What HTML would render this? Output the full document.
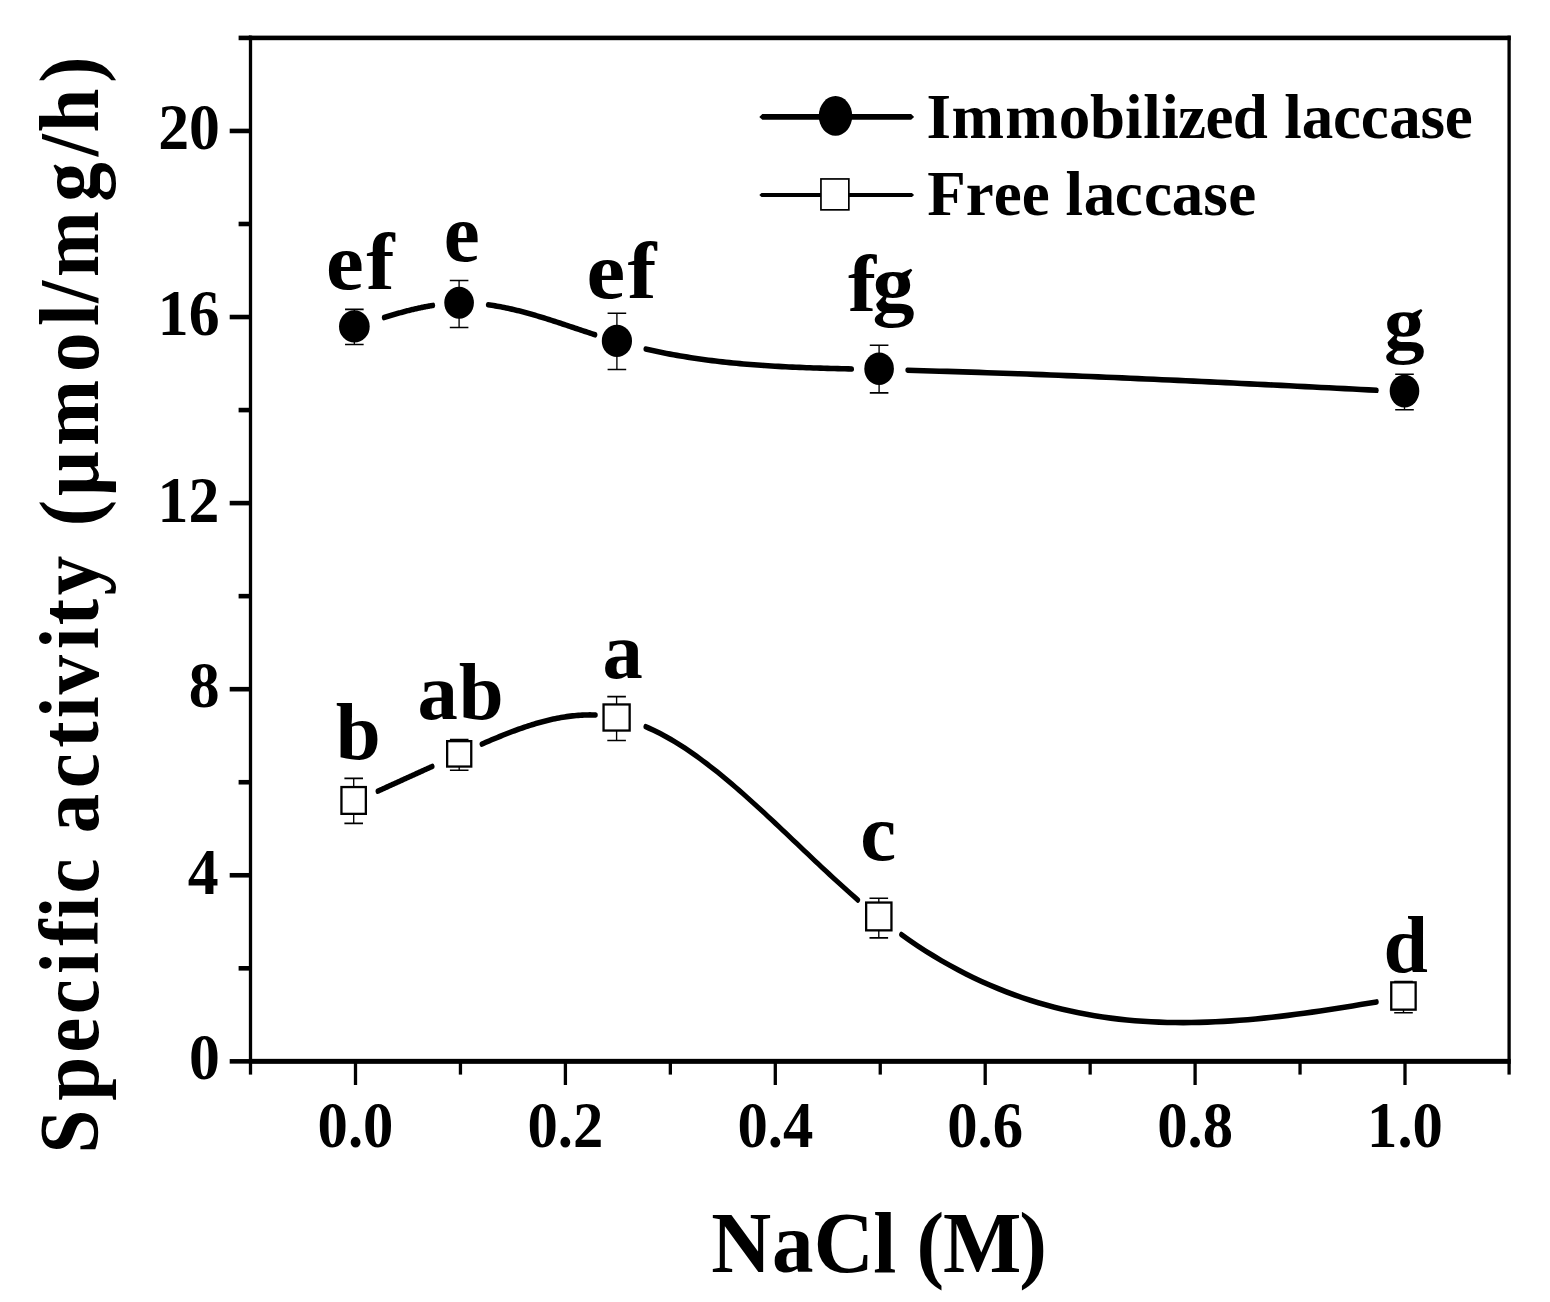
<!DOCTYPE html>
<html><head><meta charset="utf-8"><title>NaCl specific activity chart</title>
<style>html,body{margin:0;padding:0;background:#fff;}body{width:1550px;height:1302px;overflow:hidden;}svg{display:block;}</style>
</head><body>
<svg width="1550" height="1302" viewBox="0 0 1550 1302"><g fill="#000"><rect x="248.85" y="35.60" width="3.30" height="1039.00"/><rect x="1507.45" y="35.60" width="3.30" height="1039.00"/><rect x="248.85" y="35.60" width="1261.90" height="4.60"/><rect x="248.85" y="1058.85" width="1261.90" height="5"/><rect x="229.70" y="1059.05" width="20.80" height="4.60"/><rect x="238.60" y="966.01" width="11.90" height="4.60"/><rect x="229.70" y="872.97" width="20.80" height="4.60"/><rect x="238.60" y="779.93" width="11.90" height="4.60"/><rect x="229.70" y="686.89" width="20.80" height="4.60"/><rect x="238.60" y="593.85" width="11.90" height="4.60"/><rect x="229.70" y="500.81" width="20.80" height="4.60"/><rect x="238.60" y="407.77" width="11.90" height="4.60"/><rect x="229.70" y="314.73" width="20.80" height="4.60"/><rect x="238.60" y="221.69" width="11.90" height="4.60"/><rect x="229.70" y="128.65" width="20.80" height="4.60"/><rect x="238.60" y="35.61" width="11.90" height="4.60"/><rect x="353.85" y="1061.35" width="3.30" height="23.65"/><rect x="458.80" y="1061.35" width="3.30" height="13.25"/><rect x="563.75" y="1061.35" width="3.30" height="23.65"/><rect x="668.70" y="1061.35" width="3.30" height="13.25"/><rect x="773.65" y="1061.35" width="3.30" height="23.65"/><rect x="878.60" y="1061.35" width="3.30" height="13.25"/><rect x="983.55" y="1061.35" width="3.30" height="23.65"/><rect x="1088.50" y="1061.35" width="3.30" height="13.25"/><rect x="1193.45" y="1061.35" width="3.30" height="23.65"/><rect x="1298.40" y="1061.35" width="3.30" height="13.25"/><rect x="1403.35" y="1061.35" width="3.30" height="23.65"/></g>
<g transform="scale(1 1.3)" fill="none" stroke="#000" stroke-width="4.3" stroke-linejoin="round" stroke-linecap="round"><path d="M384.00,244.28 L384.83,244.08 L385.66,243.88 L386.49,243.68 L387.32,243.48 L388.15,243.29 L388.98,243.09 L389.81,242.90 L390.64,242.70 L391.47,242.51 L392.31,242.32 L393.14,242.13 L393.97,241.94 L394.80,241.76 L395.63,241.57 L396.46,241.39 L397.29,241.20 L398.12,241.02 L398.95,240.84 L399.78,240.66 L400.61,240.48 L401.44,240.31 L402.27,240.13 L403.10,239.96 L403.93,239.79 L404.76,239.62 L405.59,239.45 L406.42,239.28 L407.25,239.12 L408.08,238.95 L408.92,238.79 L409.75,238.63 L410.58,238.47 L411.41,238.32 L412.24,238.16 L413.07,238.01 L413.90,237.85 L414.73,237.71 L415.56,237.56 L416.39,237.41 L417.22,237.27 L418.05,237.13 L418.88,236.98 L419.71,236.85 L420.54,236.71 L421.37,236.58 L422.20,236.44 L423.03,236.31 L423.86,236.19 L424.69,236.06 L425.53,235.94 L426.36,235.82 L427.19,235.70 L428.02,235.58 L428.85,235.47 L429.68,235.35 L430.51,235.24 L431.34,235.14 L432.17,235.03 L433.00,234.93 M488.00,234.44 L489.82,234.64 L491.63,234.84 L493.45,235.06 L495.27,235.29 L497.08,235.53 L498.90,235.77 L500.72,236.03 L502.54,236.30 L504.35,236.58 L506.17,236.87 L507.99,237.17 L509.80,237.47 L511.62,237.79 L513.44,238.11 L515.25,238.44 L517.07,238.78 L518.89,239.13 L520.71,239.49 L522.52,239.85 L524.34,240.22 L526.16,240.59 L527.97,240.98 L529.79,241.37 L531.61,241.76 L533.42,242.16 L535.24,242.57 L537.06,242.98 L538.87,243.40 L540.69,243.82 L542.51,244.25 L544.33,244.68 L546.14,245.11 L547.96,245.55 L549.78,245.99 L551.59,246.44 L553.41,246.89 L555.23,247.34 L557.04,247.80 L558.86,248.25 L560.68,248.71 L562.49,249.17 L564.31,249.64 L566.13,250.10 L567.95,250.57 L569.76,251.03 L571.58,251.50 L573.40,251.97 L575.21,252.44 L577.03,252.91 L578.85,253.37 L580.66,253.84 L582.48,254.31 L584.30,254.78 L586.12,255.24 L587.93,255.70 L589.75,256.17 L591.57,256.63 L593.38,257.08 L595.20,257.54 M645.60,268.45 L649.10,269.07 L652.59,269.67 L656.09,270.25 L659.59,270.81 L663.08,271.36 L666.58,271.89 L670.08,272.40 L673.57,272.90 L677.07,273.38 L680.57,273.85 L684.06,274.30 L687.56,274.73 L691.06,275.16 L694.55,275.57 L698.05,275.96 L701.55,276.34 L705.04,276.71 L708.54,277.06 L712.04,277.40 L715.53,277.73 L719.03,278.05 L722.53,278.35 L726.02,278.65 L729.52,278.93 L733.02,279.20 L736.51,279.46 L740.01,279.71 L743.51,279.95 L747.00,280.18 L750.50,280.40 L753.99,280.61 L757.49,280.81 L760.99,281.00 L764.48,281.19 L767.98,281.36 L771.48,281.53 L774.97,281.69 L778.47,281.84 L781.97,281.99 L785.46,282.13 L788.96,282.26 L792.46,282.38 L795.95,282.50 L799.45,282.62 L802.95,282.73 L806.44,282.83 L809.94,282.93 L813.44,283.02 L816.93,283.11 L820.43,283.20 L823.93,283.28 L827.42,283.36 L830.92,283.44 L834.42,283.51 L837.91,283.58 L841.41,283.65 L844.91,283.71 L848.40,283.78 L851.90,283.84 M907.50,284.84 L915.45,285.00 L923.40,285.17 L931.35,285.34 L939.30,285.52 L947.25,285.70 L955.21,285.88 L963.16,286.07 L971.11,286.27 L979.06,286.46 L987.01,286.67 L994.96,286.87 L1002.91,287.09 L1010.86,287.30 L1018.81,287.52 L1026.76,287.74 L1034.71,287.97 L1042.66,288.20 L1050.62,288.44 L1058.57,288.67 L1066.52,288.92 L1074.47,289.16 L1082.42,289.41 L1090.37,289.66 L1098.32,289.92 L1106.27,290.17 L1114.22,290.44 L1122.17,290.70 L1130.12,290.97 L1138.07,291.24 L1146.03,291.51 L1153.98,291.78 L1161.93,292.06 L1169.88,292.34 L1177.83,292.62 L1185.78,292.91 L1193.73,293.19 L1201.68,293.48 L1209.63,293.77 L1217.58,294.07 L1225.53,294.36 L1233.48,294.66 L1241.44,294.96 L1249.39,295.26 L1257.34,295.56 L1265.29,295.86 L1273.24,296.17 L1281.19,296.47 L1289.14,296.78 L1297.09,297.09 L1305.04,297.40 L1312.99,297.71 L1320.94,298.02 L1328.89,298.33 L1336.85,298.65 L1344.80,298.96 L1352.75,299.27 L1360.70,299.59 L1368.65,299.90 L1376.60,300.22"/><path d="M377.70,608.63 L378.63,608.30 L379.55,607.98 L380.48,607.65 L381.41,607.33 L382.34,607.01 L383.26,606.68 L384.19,606.36 L385.12,606.03 L386.04,605.71 L386.97,605.38 L387.90,605.06 L388.83,604.74 L389.75,604.41 L390.68,604.09 L391.61,603.76 L392.53,603.44 L393.46,603.11 L394.39,602.79 L395.32,602.47 L396.24,602.14 L397.17,601.82 L398.10,601.49 L399.02,601.17 L399.95,600.84 L400.88,600.52 L401.81,600.20 L402.73,599.87 L403.66,599.55 L404.59,599.22 L405.51,598.90 L406.44,598.58 L407.37,598.25 L408.29,597.93 L409.22,597.60 L410.15,597.28 L411.08,596.95 L412.00,596.63 L412.93,596.31 L413.86,595.98 L414.78,595.66 L415.71,595.33 L416.64,595.01 L417.57,594.69 L418.49,594.36 L419.42,594.04 L420.35,593.72 L421.27,593.39 L422.20,593.07 L423.13,592.74 L424.06,592.42 L424.98,592.10 L425.91,591.77 L426.84,591.45 L427.76,591.12 L428.69,590.80 L429.62,590.48 L430.55,590.15 L431.47,589.83 L432.40,589.51 M481.70,572.41 L483.63,571.76 L485.56,571.12 L487.50,570.47 L489.43,569.84 L491.36,569.20 L493.29,568.58 L495.23,567.95 L497.16,567.34 L499.09,566.72 L501.02,566.12 L502.95,565.52 L504.89,564.93 L506.82,564.34 L508.75,563.77 L510.68,563.20 L512.62,562.63 L514.55,562.08 L516.48,561.54 L518.41,561.00 L520.34,560.47 L522.28,559.95 L524.21,559.44 L526.14,558.94 L528.07,558.46 L530.01,557.98 L531.94,557.51 L533.87,557.05 L535.80,556.61 L537.73,556.17 L539.67,555.75 L541.60,555.34 L543.53,554.95 L545.46,554.56 L547.39,554.19 L549.33,553.83 L551.26,553.49 L553.19,553.16 L555.12,552.85 L557.06,552.54 L558.99,552.26 L560.92,551.99 L562.85,551.73 L564.78,551.49 L566.72,551.27 L568.65,551.06 L570.58,550.87 L572.51,550.69 L574.45,550.53 L576.38,550.39 L578.31,550.27 L580.24,550.17 L582.17,550.08 L584.11,550.01 L586.04,549.97 L587.97,549.94 L589.90,549.93 L591.84,549.94 L593.77,549.97 L595.70,550.02 M645.60,558.98 L649.20,560.18 L652.80,561.45 L656.40,562.79 L660.00,564.19 L663.60,565.66 L667.20,567.18 L670.80,568.77 L674.40,570.41 L678.00,572.11 L681.60,573.86 L685.20,575.67 L688.80,577.52 L692.40,579.43 L696.00,581.38 L699.60,583.38 L703.20,585.43 L706.80,587.52 L710.40,589.65 L714.00,591.81 L717.60,594.02 L721.20,596.27 L724.80,598.54 L728.40,600.86 L732.00,603.20 L735.60,605.57 L739.20,607.97 L742.80,610.40 L746.40,612.85 L750.00,615.33 L753.60,617.83 L757.20,620.35 L760.80,622.88 L764.40,625.43 L768.00,628.00 L771.60,630.59 L775.20,633.18 L778.80,635.78 L782.40,638.40 L786.00,641.02 L789.60,643.64 L793.20,646.27 L796.80,648.90 L800.40,651.53 L804.00,654.16 L807.60,656.79 L811.20,659.41 L814.80,662.03 L818.40,664.64 L822.00,667.23 L825.60,669.82 L829.20,672.40 L832.80,674.96 L836.40,677.51 L840.00,680.03 L843.60,682.54 L847.20,685.03 L850.80,687.50 L854.40,689.94 L858.00,692.35 M901.30,718.87 L909.36,723.23 L917.41,727.43 L925.47,731.45 L933.52,735.30 L941.58,738.99 L949.64,742.51 L957.69,745.88 L965.75,749.08 L973.80,752.14 L981.86,755.04 L989.92,757.79 L997.97,760.40 L1006.03,762.86 L1014.08,765.18 L1022.14,767.37 L1030.19,769.42 L1038.25,771.34 L1046.31,773.13 L1054.36,774.80 L1062.42,776.34 L1070.47,777.76 L1078.53,779.07 L1086.59,780.26 L1094.64,781.34 L1102.70,782.31 L1110.75,783.17 L1118.81,783.93 L1126.87,784.59 L1134.92,785.15 L1142.98,785.62 L1151.03,785.99 L1159.09,786.28 L1167.15,786.48 L1175.20,786.59 L1183.26,786.63 L1191.31,786.59 L1199.37,786.47 L1207.43,786.28 L1215.48,786.02 L1223.54,785.70 L1231.59,785.31 L1239.65,784.86 L1247.71,784.36 L1255.76,783.79 L1263.82,783.18 L1271.87,782.52 L1279.93,781.81 L1287.98,781.05 L1296.04,780.26 L1304.10,779.43 L1312.15,778.56 L1320.21,777.66 L1328.26,776.73 L1336.32,775.77 L1344.38,774.79 L1352.43,773.79 L1360.49,772.77 L1368.54,771.74 L1376.60,770.69"/></g>
<path d="M354.35,309.40 V344.50 M459.10,280.50 V327.50 M616.90,313.30 V369.50 M879.10,345.30 V392.90 M1404.50,374.30 V409.70 M353.70,778.40 V823.40 M459.20,739.60 V770.30 M616.60,696.60 V740.50 M878.80,898.30 V937.90 M1403.50,981.60 V1012.70" fill="none" stroke="#000" stroke-width="1.35"/>
<path d="M345.05,309.40 H363.65 M345.05,344.50 H363.65 M449.80,280.50 H468.40 M449.80,327.50 H468.40 M607.60,313.30 H626.20 M607.60,369.50 H626.20 M869.80,345.30 H888.40 M869.80,392.90 H888.40 M1395.20,374.30 H1413.80 M1395.20,409.70 H1413.80 M344.40,778.40 H363.00 M344.40,823.40 H363.00 M449.90,739.60 H468.50 M449.90,770.30 H468.50 M607.30,696.60 H625.90 M607.30,740.50 H625.90 M869.50,898.30 H888.10 M869.50,937.90 H888.10 M1394.20,981.60 H1412.80 M1394.20,1012.70 H1412.80" fill="none" stroke="#000" stroke-width="1.6"/>
<ellipse cx="354.35" cy="326.40" rx="15.35" ry="16.20" fill="#000"/><ellipse cx="459.10" cy="302.80" rx="14.80" ry="16.00" fill="#000"/><ellipse cx="616.90" cy="340.95" rx="15.10" ry="16.15" fill="#000"/><ellipse cx="879.10" cy="368.75" rx="14.80" ry="16.25" fill="#000"/><ellipse cx="1404.50" cy="391.10" rx="14.80" ry="16.30" fill="#000"/><rect x="341.45" y="787.05" width="24.40" height="26.80" fill="#fff" stroke="#000" stroke-width="2.3"/><rect x="447.15" y="741.15" width="24.10" height="25.40" fill="#fff" stroke="#000" stroke-width="2.3"/><rect x="603.55" y="704.45" width="26.10" height="26.10" fill="#fff" stroke="#000" stroke-width="2.3"/><rect x="866.15" y="902.55" width="25.30" height="27.80" fill="#fff" stroke="#000" stroke-width="2.3"/><rect x="1391.25" y="982.35" width="24.40" height="27.30" fill="#fff" stroke="#000" stroke-width="2.3"/>
<polygon points="759.3,116.9 762.3,114.0 911.1,114.0 914.1,116.9 911.1,119.8 762.3,119.8" fill="#000"/>
<ellipse cx="835.5" cy="115.9" rx="16.7" ry="19.8" fill="#000"/>
<polygon points="759.3,195.0 761.5,193.0 911.9,193.0 914.1,195.0 911.9,197.0 761.5,197.0" fill="#000"/>
<rect x="820.95" y="178.95" width="27.9" height="30.9" fill="#fff" stroke="#000" stroke-width="1.7"/>
<g font-family="'Liberation Serif', 'Times New Roman', serif" font-weight="bold" font-size="100" fill="#000"><text transform="translate(0 137.80) scale(1.0032 1)" x="923.50 948.43 1002.11 1055.34 1086.65 1121.50 1139.49 1157.53 1174.31 1201.78 1228.75 1263.67 1280.14 1297.63 1328.70 1356.41 1384.75 1415.95 1440.17" y="0" font-size="62.80">Immobilized laccase</text><text transform="translate(0 214.80) scale(1.0032 1)" x="924.28 962.58 990.60 1018.61 1046.49 1062.04 1080.22 1111.29 1140.30 1168.04 1199.54 1224.41" y="0" font-size="62.80">Free laccase</text><text transform="translate(0 1272.10) scale(0.9540 1)" x="745.57 809.35 853.03 915.35 939.53 960.71 988.52 1068.39" y="0" font-size="87.00">NaCl (M)</text><text transform="translate(188.97 1078.60) scale(0.9386 1)" font-size="65.8">0</text><text transform="translate(187.77 894.30) scale(0.9386 1)" font-size="65.8">4</text><text transform="translate(188.67 707.00) scale(0.9386 1)" font-size="65.8">8</text><text transform="translate(157.59 521.90) scale(0.9386 1)" font-size="65.8">12</text><text transform="translate(157.85 334.50) scale(0.9386 1)" font-size="65.8">16</text><text transform="translate(158.19 149.20) scale(0.9386 1)" font-size="65.8">20</text><text transform="translate(355.50 1146.6) scale(0.9410 1)" font-size="64.5" text-anchor="middle">0.0</text><text transform="translate(565.40 1146.6) scale(0.9410 1)" font-size="64.5" text-anchor="middle">0.2</text><text transform="translate(775.30 1146.6) scale(0.9410 1)" font-size="64.5" text-anchor="middle">0.4</text><text transform="translate(985.20 1146.6) scale(0.9410 1)" font-size="64.5" text-anchor="middle">0.6</text><text transform="translate(1195.10 1146.6) scale(0.9410 1)" font-size="64.5" text-anchor="middle">0.8</text><text transform="translate(1405.00 1146.6) scale(0.9410 1)" font-size="64.5" text-anchor="middle">1.0</text><text transform="translate(0 289.00) scale(1.0609 1)" x="307.31 345.33" y="0" font-size="80.10">ef</text><text transform="translate(443.63 261.03) scale(0.8103 0.8342)">e</text><text transform="translate(0 298.10) scale(1.0919 1)" x="537.23 574.59" y="0" font-size="79.68">ef</text><text transform="translate(0 311.19) scale(1.0546 1)" x="804.09 827.22" y="0" font-size="79.80">fg</text><text transform="translate(1384.06 349.26) scale(0.8127 0.7631)">g</text><text transform="translate(335.77 759.03) scale(0.8093 0.7930)">b</text><text transform="translate(0 719.22) scale(1.0142 1)" x="411.68 452.40" y="0" font-size="79.59">ab</text><text transform="translate(602.50 678.10) scale(0.8064 0.8142)">a</text><text transform="translate(860.34 860.05) scale(0.8083 0.8096)">c</text><text transform="translate(1383.46 972.12) scale(0.7990 0.7945)">d</text><text transform="translate(97.50 0) rotate(-90) scale(0.9405 1)" x="-1226.55 -1170.44 -1119.28 -1078.49 -1035.66 -1005.64 -976.54 -950.00 -912.71 -885.85 -838.19 -795.15 -763.62 -738.35 -690.25 -664.89 -632.98 -590.98 -559.57 -527.44 -473.95 -395.60 -346.76 -321.80 -294.57 -214.58 -166.08 -140.89 -87.98" y="0" font-size="84.00">Specific activity (μmol/mg/h)</text></g></svg>
</body></html>
